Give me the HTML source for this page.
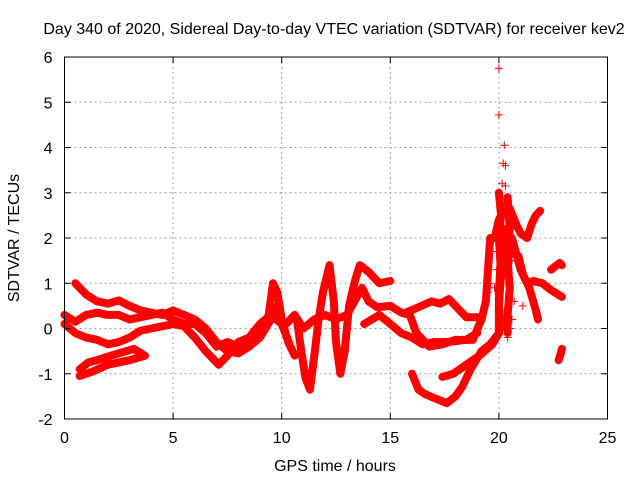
<!DOCTYPE html>
<html><head><meta charset="utf-8"><style>
body{margin:0;background:#fff}
svg text{font-family:"Liberation Sans",sans-serif;font-size:16px;fill:#000}
</style></head><body>
<svg id="chart" width="640" height="480" xmlns="http://www.w3.org/2000/svg">
<text x="334" y="34" text-anchor="middle">Day 340 of 2020, Sidereal Day-to-day VTEC variation (SDTVAR) for receiver kev2</text>
<text x="335" y="471" text-anchor="middle">GPS time / hours</text>
<text transform="translate(19,238) rotate(-90)" text-anchor="middle">SDTVAR / TECUs</text>
<g id="grid"></g>
<g id="marks"></g>
<rect x="64.5" y="57" width="543" height="362" fill="none" stroke="#000" stroke-width="1"/>
<g id="ticks"></g>
</svg>
<script>
const xTicks=[0,5,10,15,20,25];
const yTicks=[-2,-1,0,1,2,3,4,5,6];
const track1=[[0.5,1.0],[1,0.75],[1.5,0.6],[2,0.55],[2.5,0.62],[3,0.5],[3.5,0.4],[4,0.35],[4.5,0.3],[5,0.4],[5.5,0.3],[6,0.2],[6.5,0.0],[7,-0.3],[7.5,-0.5],[8,-0.55],[8.5,-0.4],[9,-0.2],[9.5,0.2],[9.8,0.5]];
const track2=[[0,0.3],[0.5,0.15],[1,0.3],[1.5,0.35],[2,0.3],[2.5,0.3],[3,0.2],[3.5,0.25],[4,0.3],[4.5,0.35],[5,0.2],[5.5,0.1],[6,0.1],[6.5,-0.1],[7,-0.4],[7.5,-0.3],[8,-0.4],[8.5,-0.3],[9,-0.1],[9.4,0.3],[9.6,1.0],[9.8,0.8],[10,0.2],[10.3,-0.3],[10.6,-0.6]];
const track3=[[0,0.1],[0.5,-0.1],[1,-0.2],[1.5,-0.25],[2,-0.35],[2.5,-0.3],[3,-0.2],[3.5,-0.05],[4,0.0],[4.5,0.05],[5,0.1],[5.5,0.05],[6,-0.2],[6.5,-0.5],[7.1,-0.8],[7.5,-0.6],[8,-0.3],[8.5,-0.2],[9,0.1],[9.5,0.3],[10,0.1],[10.4,-0.4]];
const track4=[[0.7,-0.9],[1.1,-0.75],[1.5,-0.7],[2,-0.62],[2.5,-0.55],[3.2,-0.45],[3.7,-0.6]];
const track5=[[0.7,-1.05],[1.3,-0.95],[2,-0.8],[2.5,-0.75],[3,-0.7],[3.7,-0.6]];
const track6=[[10.7,0.2],[10.9,-0.5],[11.1,-1.1],[11.3,-1.35],[11.5,-0.6],[11.7,0.2],[11.9,0.8],[12.2,1.4],[12.4,0.6],[12.5,-0.3],[12.7,-1.0],[12.9,-0.5],[13.1,0.5],[13.4,1.1],[13.6,1.4],[14,1.25],[14.5,1.0],[15,1.05]];
const track7=[[10.2,0.1],[10.6,0.3],[11,0.0],[11.5,0.2],[12,0.3],[12.5,0.2],[13,0.3],[13.7,0.9],[14,0.6],[14.4,0.47],[15,0.5],[15.5,0.35],[15.9,0.3],[16.2,-0.1],[16.8,-0.4],[17.4,-0.35],[18,-0.25],[18.8,-0.25],[19.2,0.2],[19.4,0.6],[19.6,2.0]];
const track8=[[13.8,0.1],[14.5,0.3],[15,0.1],[15.5,-0.1],[16,-0.2],[16.5,-0.35],[17,-0.3],[17.5,-0.3],[18,-0.28],[18.5,-0.25],[19,-0.1]];
const track9=[[15.7,0.35],[16.2,0.45],[16.9,0.6],[17.3,0.55],[17.7,0.65],[18.1,0.45],[18.5,0.25],[19.0,0.25]];
const track10=[[16.0,-1.0],[16.3,-1.35],[16.6,-1.45],[17.1,-1.55],[17.6,-1.65],[18.0,-1.5],[18.3,-1.3],[18.7,-0.9],[19.2,-0.5],[19.6,-0.35],[20,-0.1]];
const track11=[[17.4,-1.07],[17.9,-1.0],[18.5,-0.8],[19.1,-0.6],[19.7,-0.35],[20,-0.1],[20.0,0.8],[20.1,1.6],[20.2,2.2]];
const track12=[[19.8,2.0],[20.0,2.4],[20.2,2.6],[20.5,2.65],[20.8,2.3],[21.0,2.1],[21.3,2.0],[21.5,2.3],[21.7,2.5],[21.9,2.6]];
const track13=[[20.2,1.8],[20.5,1.7],[20.9,1.6],[21.1,1.2],[21.3,1.0],[21.6,1.05],[22.0,1.0],[22.4,0.85],[22.9,0.7]];
const track14=[[20.6,2.0],[21.0,1.3],[21.4,0.9],[21.7,0.4],[21.8,0.2]];
const track15=[[22.4,1.3],[22.8,1.45],[22.9,1.4]];
const track16=[[22.75,-0.7],[22.85,-0.55],[22.9,-0.45]];
const track17=[[20.0,3.0],[20.1,2.5],[20.0,2.0],[20.1,1.2],[20.0,0.5],[20.05,0.0]];
const track18=[[20.4,2.9],[20.5,2.2],[20.4,1.5],[20.5,0.9],[20.4,0.3],[20.4,-0.1]];
const scatter=[[20.0,5.75],[20.0,4.72],[20.25,4.05],[20.2,3.65],[20.3,3.6],[20.15,3.2],[20.3,3.15],[20.4,2.9],[19.9,1.3],[19.8,0.9],[20.1,0.4],[20.4,-0.2],[20.3,0.2],[19.7,1.7],[20.6,1.5],[20.5,0.0],[21.1,0.5],[19.6,1.0],[19.5,0.8],[20.7,0.6],[20.6,0.2]];
const tracks=[track1,track2,track3,track4,track5,track6,track7,track8,track9,track10,track11,track12,track13,track14,track15,track16,track17,track18];

const X0=64.5,X1=607.5,Y0=419,Y1=57;
const sx=v=>X0+(v-0)/(25-0)*(X1-X0);
const sy=v=>Y0-(v+2)/(6+2)*(Y0-Y1);
const NS="http://www.w3.org/2000/svg";
const grid=document.getElementById('grid'),ticks=document.getElementById('ticks'),marks=document.getElementById('marks');
function mk(tag,attrs,parent){const e=document.createElementNS(NS,tag);for(const k in attrs)e.setAttribute(k,attrs[k]);parent.appendChild(e);return e;}
xTicks.forEach(t=>{const x=sx(t);
 if(t>0&&t<25){const g=mk('line',{x1:x,x2:x,y1:Y1,y2:Y0,stroke:'#a0a0a0','stroke-dasharray':'2,3'},grid);}
 const tk=mk('path',{d:`M${x},${Y0}v-6M${x},${Y1}v6`,stroke:'#000'},ticks);
 const l=mk('text',{x:x,y:Y0+24,'text-anchor':'middle'},ticks);l.textContent=t;
 
 });
yTicks.forEach(t=>{const y=sy(t);
 if(t>-2&&t<6){const g=mk('line',{x1:X0,x2:X1,y1:y,y2:y,stroke:'#a0a0a0','stroke-dasharray':'2,3'},grid);}
 const tk=mk('path',{d:`M${X0},${y}h6M${X1},${y}h-6`,stroke:'#000'},ticks);
 const l=mk('text',{x:X0-12,y:y+6,'text-anchor':'end'},ticks);l.textContent=t;
 
 });
function plus(h,v){const x=sx(h),y=sy(v);const p=mk('path',{d:`M${x-4},${y}h8M${x},${y-4}v8`,stroke:'#f00','stroke-width':1},marks);
 
 }
tracks.forEach(tr=>{const pl=mk('polyline',{points:tr.map(p=>sx(p[0])+','+sy(p[1])).join(' '),fill:'none',stroke:'#f00','stroke-width':8,'stroke-linejoin':'round','stroke-linecap':'round'},marks);
 
 
 tr.forEach(p=>plus(p[0],p[1]));});
scatter.forEach(p=>plus(p[0],p[1]));
</script>
</body></html>
